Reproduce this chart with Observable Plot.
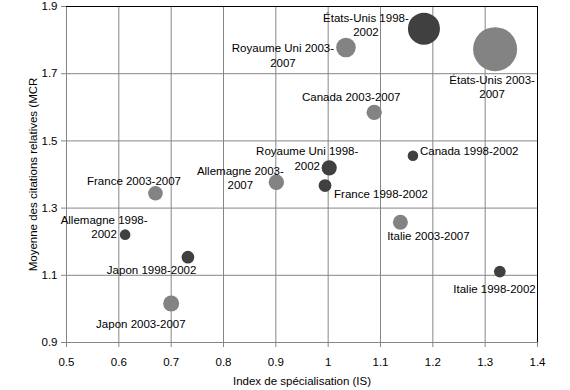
<!DOCTYPE html>
<html><head><meta charset="utf-8">
<script src="https://cdn.jsdelivr.net/npm/d3@7"></script>
<script src="https://cdn.jsdelivr.net/npm/@observablehq/plot@0.6"></script>
<style>html,body{margin:0;padding:0;background:#fff}</style>
</head><body><div id="chart"></div>
<script>
// Data
const pays = ["États-Unis","États-Unis","Royaume Uni","Royaume Uni","Canada","Canada","France","France","Allemagne","Allemagne","Italie","Italie","Japon","Japon"];
const periodes = ["1998-2002","2003-2007","1998-2002","2003-2007","1998-2002","2003-2007","1998-2002","2003-2007","1998-2002","2003-2007","1998-2002","2003-2007","1998-2002","2003-2007"];
const indexIS = [1.183, 1.319, 1.002, 1.034, 1.162, 1.088, 0.994, 0.670, 0.612, 0.901, 1.328, 1.138, 0.732, 0.700];
const mcr = [1.834, 1.773, 1.420, 1.778, 1.456, 1.585, 1.367, 1.344, 1.221, 1.377, 1.111, 1.258, 1.154, 1.016];
const taille = [256, 484, 58, 96, 28, 59, 41, 53, 28, 59, 34, 56, 40, 64];
const periodOrder = ["1998-2002", "2003-2007"];
const xTicks = [0.5, 0.6, 0.7, 0.8, 0.9, 1.0, 1.1, 1.2, 1.3, 1.4];
const yTicks = [0.9, 1.1, 1.3, 1.5, 1.7, 1.9];
const xLabel = "Index de spécialisation (IS)";
const yLabel = "Moyenne des citations relatives (MCR";

// Label placement (layout, not data): offset from the bubble, anchor, wrap
const labelLayout = [
  {dx: -58, dy: -4, anchor: "middle", wrap: true},
  {dx: -3, dy: 37, anchor: "middle", wrap: true},
  {dx: -22, dy: -10, anchor: "middle", wrap: true},
  {dx: -63, dy: 7.5, anchor: "middle", wrap: true},
  {dx: 7, dy: -5, anchor: "start", wrap: false},
  {dx: -23, dy: -16, anchor: "middle", wrap: false},
  {dx: 9, dy: 7.7, anchor: "start", wrap: false},
  {dx: -21.5, dy: -12.5, anchor: "middle", wrap: false},
  {dx: -21, dy: -8, anchor: "middle", wrap: true},
  {dx: -36, dy: -4.7, anchor: "middle", wrap: true},
  {dx: -5.3, dy: 16.7, anchor: "middle", wrap: false},
  {dx: 28, dy: 13.5, anchor: "middle", wrap: false},
  {dx: -36.3, dy: 12.7, anchor: "middle", wrap: false},
  {dx: -30.3, dy: 20, anchor: "middle", wrap: false}
];

const data = pays.map((p, i) => ({
  pays: p,
  periode: periodes[i],
  is: indexIS[i],
  mcr: mcr[i],
  taille: taille[i],
  label: labelLayout[i].wrap
    ? `${p} ${periodes[i].slice(0, 5)}\n${periodes[i].slice(5)}`
    : `${p} ${periodes[i]}`
}));

const grid = "#868686";

const labelMarks = data.map((d, i) => Plot.text([d], {
  x: "is", y: "mcr", text: "label",
  dx: labelLayout[i].dx, dy: labelLayout[i].dy,
  textAnchor: labelLayout[i].anchor,
  lineAnchor: "middle", lineHeight: 1.25,
  fill: "#000"
}));

const chart = Plot.plot({
  width: 570,
  height: 390,
  marginLeft: 66,
  marginRight: 33,
  marginTop: 6,
  marginBottom: 48,
  style: {fontFamily: "'Liberation Sans', Arial, sans-serif", fontSize: "11.5px", background: "#fff", color: "#000"},
  x: {domain: [0.5, 1.4]},
  y: {domain: [0.9, 1.9]},
  r: {type: "sqrt", domain: [0, 484], range: [0, 22]},
  color: {domain: periodOrder, range: ["#404040", "#838383"]},
  marks: [
    Plot.ruleX(xTicks, {stroke: grid, strokeWidth: 1}),
    Plot.ruleY(yTicks, {stroke: grid, strokeWidth: 1}),
    Plot.ruleY([1.9], {stroke: "#000", strokeWidth: 1}),
    Plot.ruleX([1.4], {stroke: "#000", strokeWidth: 1}),
    Plot.axisX({ticks: xTicks, tickSize: 5, tickPadding: 10, tickFormat: d3.format(""), stroke: grid, fill: "#000",
      label: xLabel, labelAnchor: "center", labelOffset: 42, labelArrow: "none"}),
    Plot.axisY({ticks: yTicks, tickSize: 5, tickPadding: 4, tickFormat: d3.format(".1f"), stroke: grid, fill: "#000",
      label: yLabel, labelAnchor: "center", labelOffset: 38, labelArrow: "none"}),
    Plot.dot(data, {x: "is", y: "mcr", r: "taille", fill: "periode"}),
    ...labelMarks
  ]
});
document.getElementById("chart").appendChild(chart);
</script>
</body></html>
